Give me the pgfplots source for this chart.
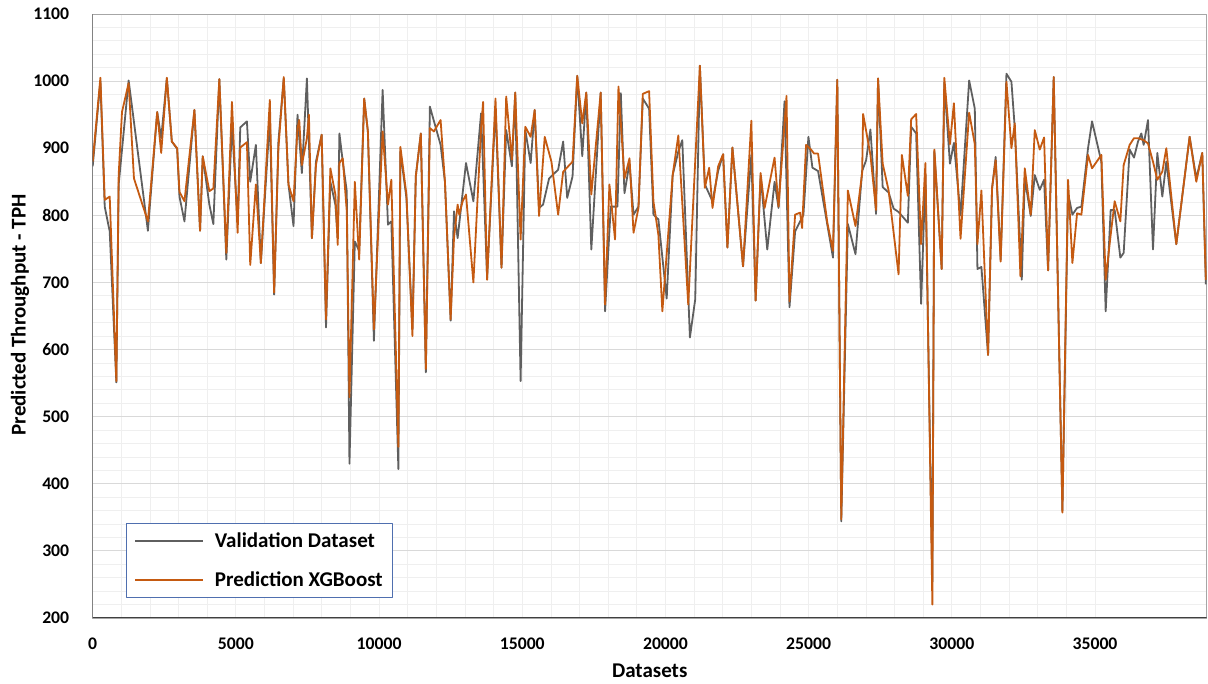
\documentclass[border=0pt]{standalone}
\usepackage{pgfplots}
\pgfplotsset{compat=1.18}
\usepackage{fontspec}
\setmainfont{Carlito}
\usetikzlibrary{calc}
\definecolor{valgray}{HTML}{5F5F5F}
\definecolor{predorange}{HTML}{C55A11}
\definecolor{majgrid}{HTML}{D9D9D9}
\definecolor{mingrid}{HTML}{EFEFEF}
\definecolor{legblue}{HTML}{4F6FAF}
\begin{document}
\begin{tikzpicture}
\begin{axis}[
  scale only axis,
  width=1114pt, height=604pt,
  xmin=0, xmax=38900, ymin=200, ymax=1100,
  xtick={0,5000,...,35000},
  ytick={200,300,...,1100},
  scaled x ticks=false, scaled y ticks=false,
  minor x tick num=4,
  minor y tick num=4,
  major tick length=0pt, minor tick length=0pt,
  xmajorgrids, xminorgrids, ymajorgrids, yminorgrids,
  x grid style={mingrid, line width=0.8pt},
  minor x grid style={mingrid, line width=0.8pt},
  y grid style={majgrid, line width=0.9pt},
  minor y grid style={mingrid, line width=0.8pt},
  axis line style={draw=black!35, line width=0.8pt},
  /pgf/number format/assume math mode=true,
  /pgf/number format/1000 sep={},
  tick label style={font=\bfseries\fontsize{17.7}{20}\selectfont, text=black},
  xticklabel style={yshift=-16pt},
  yticklabel style={xshift=-20pt},
  xlabel={Datasets},
  ylabel={Predicted Throughput - TPH},
  label style={font=\bfseries\fontsize{21}{24}\selectfont},
  xlabel style={at={(rel axis cs:0.5,0)}, anchor=north, yshift=-42pt},
  ylabel style={at={(rel axis cs:0,0.502)}, anchor=south, yshift=60pt},
  legend style={at={(rel axis cs:0.0297,0.1569)}, anchor=north west,
    draw=legblue, line width=0.8pt, fill=white,
    font=\bfseries\fontsize{21}{24}\selectfont,
    inner xsep=8pt, inner ysep=7pt, row sep=19pt},
  legend cell align=left,
  legend image code/.code={\draw[#1, line width=1.8pt] (0pt,0pt) -- (68pt,0pt);},
  line join=round,
]
\addplot[valgray, line width=1.8pt] coordinates {
(0,873) (269,1000) (420,813) (594,776) (826,551) (907,846) (1255,1001) (1928,777)
(2253,954) (2392,915) (2589,1004) (2763,910) (2949,899) (3030,828) (3204,791) (3552,957)
(3749,777) (3842,888) (4074,816) (4213,787) (4422,1003) (4666,734) (4863,935) (5060,789)
(5153,931) (5385,940) (5501,850) (5698,905) (5872,729) (6185,945) (6336,682)
(6485,910) (6672,1004) (6836,846) (7012,784) (7152,950) (7304,863) (7480,1004) (7655,766)
(7796,880) (7995,920) (8147,633) (8299,850) (8474,816) (8556,766) (8615,922) (8732,880)
(8872,836) (8966,430) (9153,761) (9305,747) (9480,974) (9609,925) (9820,613) (10124,987)
(10311,786) (10428,791) (10674,422) (10744,895) (10955,826) (11165,630) (11282,858) (11458,922)
(11633,566) (11774,962) (12148,905) (12300,850) (12499,643) (12616,806) (12743,766)
(13035,878) (13293,821) (13562,952) (13772,707) (14065,959) (14275,722) (14439,927) (14638,873)
(14755,983) (14942,553) (15106,927) (15293,878) (15434,957) (15586,811) (15726,816) (15937,855)
(16253,868) (16428,910) (16569,826) (16756,858) (16920,1008) (17095,888) (17235,983) (17411,749)
(17739,983) (17891,657) (18090,813) (18324,813) (18441,982) (18569,833) (18745,878) (18885,801)
(19058,813) (19209,974) (19429,959) (19580,801) (19753,794) (20043,676) (20252,860) (20449,895)
(20588,912) (20854,618) (21040,675) (21202,1023) (21376,846) (21643,821) (21840,866) (22013,891)
(22164,752) (22338,901) (22709,724) (22999,890) (23149,673) (23323,859) (23555,749) (23810,850)
(23949,811) (24158,970) (24331,663) (24528,776) (24818,801) (24992,917) (25132,871) (25329,866)
(25850,737) (26000,1002) (26139,344) (26370,787) (26636,742) (26868,866) (27006,882) (27157,928)
(27354,802) (27423,1004) (27585,842) (27793,834) (27967,810) (28140,805) (28464,789) (28580,932)
(28754,922) (28927,668) (29078,860) (29320,254) (29390,895) (29645,720) (29737,998) (29934,877)
(30072,908) (30304,800) (30605,1001) (30802,959) (30894,720) (31033,723) (31265,592) (31404,840)
(31531,887) (31705,734) (31907,1011) (32081,999) (32198,930) (32442,704) (32547,855) (32756,799)
(32896,860) (33070,838) (33221,853) (33361,718) (33558,1006) (33861,360) (34058,833) (34210,801)
(34373,811) (34524,813) (34756,900) (34896,940) (35221,880) (35372,657) (35547,808) (35686,808)
(35884,737) (36000,744) (36209,898) (36361,886) (36501,910) (36617,922) (36698,905) (36850,942)
(37024,749) (37175,893) (37350,828) (37489,880) (37838,757) (38303,917) (38536,855) (38745,893)
(38870,697)
};
\addlegendentry{\hspace{9pt}Validation Dataset}
\addplot[predorange, line width=1.8pt] coordinates {
(0,880) (269,1005) (420,823) (594,828) (826,553) (907,860) (1023,954) (1255,997)
(1441,855) (1928,791) (2253,954) (2392,893) (2589,1005) (2763,910) (2949,900) (3030,835)
(3204,821) (3552,957) (3749,777) (3842,888) (4074,836) (4213,840) (4422,1003) (4666,744)
(4863,969) (5060,774) (5153,901) (5385,909) (5501,726) (5698,846) (5872,729) (6185,972)
(6336,685) (6485,900) (6672,1006) (6836,846) (7012,821) (7152,930) (7212,942) (7304,875)
(7480,915) (7550,950) (7655,766) (7796,875) (7995,920) (8147,645) (8299,870) (8474,831)
(8556,756) (8615,878) (8732,885) (8872,806) (8966,529) (9153,850) (9305,734) (9480,974)
(9609,925) (9820,630) (10124,925) (10311,816) (10428,853) (10674,455) (10744,902) (10955,831)
(11165,620) (11282,858) (11458,922) (11633,571) (11774,930) (11914,925) (12148,942) (12300,850)
(12499,645) (12616,766) (12743,816) (12800,801) (12918,821) (13035,831) (13293,700) (13562,930)
(13632,969) (13772,704) (14065,974) (14275,722) (14439,977) (14638,883) (14755,983) (14942,764)
(15106,932) (15293,917) (15434,957) (15586,799) (15784,917) (16018,880) (16253,801) (16428,865)
(16756,880) (16920,1008) (17095,937) (17235,983) (17411,831) (17739,983) (17891,667) (18043,846)
(18240,764) (18359,992) (18569,855) (18745,885) (18885,774) (19058,811) (19209,981) (19429,985)
(19580,821) (19753,771) (19892,657) (20252,860) (20449,919) (20796,667) (21202,1023) (21376,841)
(21527,871) (21643,811) (21840,873) (22013,891) (22164,752) (22338,901) (22709,724) (22999,941)
(23149,673) (23323,863) (23462,811) (23810,886) (23949,813) (24228,978) (24331,672) (24528,801)
(24702,804) (24771,781) (24910,905) (25084,898) (25190,892) (25329,892) (25653,789) (25850,747)
(26000,1002) (26139,347) (26370,837) (26636,784) (26868,863) (26902,951) (27157,890) (27354,808)
(27423,1004) (27585,877) (27793,837) (28140,712) (28256,890) (28464,829) (28580,943) (28754,951)
(28927,757) (29078,878) (29320,220) (29390,898) (29645,720) (29737,1005) (29934,906) (30072,967)
(30304,765) (30605,953) (30802,906) (30894,757) (31033,837) (31265,592) (31404,840) (31531,882)
(31705,731) (31907,999) (32081,900) (32198,937) (32395,709) (32547,870) (32756,801) (32896,927)
(33070,898) (33221,916) (33361,718) (33558,1006) (33861,357) (34058,853) (34210,729) (34373,803)
(34524,801) (34756,890) (34896,870) (35221,890) (35372,704) (35547,771) (35686,821) (35884,791)
(36000,875) (36209,905) (36361,915) (36501,915) (36698,912) (36850,907) (37024,880) (37175,853)
(37350,865) (37489,900) (37838,757) (38303,917) (38536,850) (38745,893) (38870,704)
};
\addlegendentry{\hspace{9pt}Prediction XGBoost\hspace{10pt}}
\draw[black!75, line width=1.2pt] (rel axis cs:0,1) -- (rel axis cs:0,0) -- (rel axis cs:1,0);
\coordinate (sw) at (rel axis cs:0,0);
\end{axis}
\pgfresetboundingbox
\path[use as bounding box] ($(sw)+(-92.7pt,-66pt)$) rectangle ($(sw)+(1115.3pt,618pt)$);
\end{tikzpicture}
\end{document}
